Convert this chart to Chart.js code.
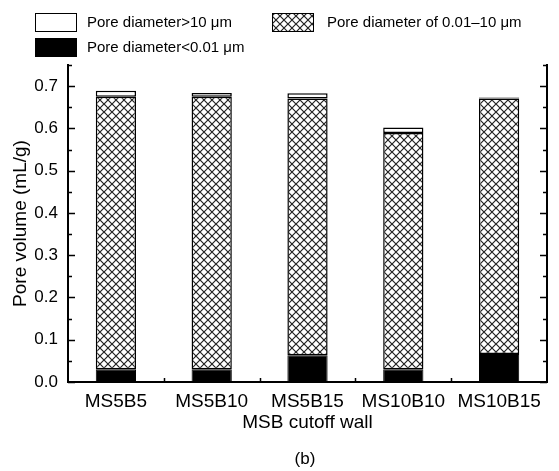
<!DOCTYPE html>
<html>
<head>
<meta charset="utf-8">
<script src="https://cdn.jsdelivr.net/npm/chart.js@4/dist/chart.umd.min.js"></script>
<style>
  html, body { margin: 0; padding: 0; background: #fff; }
  #wrap { width: 559px; height: 471px; }
</style>
</head>
<body>
<div id="wrap"><canvas id="chart"></canvas></div>
<script>
const categories = ['MS5B5', 'MS5B10', 'MS5B15', 'MS10B10', 'MS10B15'];
// stacked from the bottom up
const smallPores = [0.030, 0.030, 0.063, 0.030, 0.066];   // < 0.01 um
const midPores   = [0.645, 0.645, 0.608, 0.559, 0.605];   // 0.01-10 um
const largePores = [0.014, 0.009, 0.012, 0.013, 0.002];   // > 10 um
const yMin = 0, yMax = 0.75, yStep = 0.05;

const FONT = "'Liberation Sans', Arial, sans-serif";

function hatchPattern() {
  const p = document.createElement('canvas');
  p.width = 8; p.height = 8;
  const g = p.getContext('2d');
  g.fillStyle = '#fff';
  g.fillRect(0, 0, 8, 8);
  g.strokeStyle = '#222';
  g.lineWidth = 1.2;
  g.beginPath();
  g.moveTo(-1, -1); g.lineTo(9, 9);
  g.moveTo(9, -1); g.lineTo(-1, 9);
  g.stroke();
  return g.createPattern(p, 'repeat');
}
const hatch = hatchPattern();

// frame, inward ticks, legend and the (b) label
const decorations = {
  id: 'decorations',
  afterDraw(chart) {
    const ctx = chart.ctx;
    const a = chart.chartArea;
    const x = chart.scales.x, y = chart.scales.y;
    ctx.save();
    ctx.strokeStyle = '#000';
    ctx.lineWidth = 2;
    ctx.beginPath();
    ctx.moveTo(a.left, a.top - 1); ctx.lineTo(a.left, a.bottom);
    ctx.lineTo(a.right, a.bottom); ctx.lineTo(a.right, a.top - 1);
    ctx.stroke();

    // y ticks every 0.05, longer at every 0.1
    ctx.lineWidth = 1.5;
    ctx.beginPath();
    const n = Math.round((yMax - yMin) / yStep);
    for (let k = 0; k <= n; k++) {
      const v = yMin + k * yStep;
      const py = Math.round(y.getPixelForValue(v)) + 0.5;
      const len = k % 2 === 0 ? 7 : 4;
      ctx.moveTo(a.left, py); ctx.lineTo(a.left + len, py);
      ctx.moveTo(a.right, py); ctx.lineTo(a.right - len, py);
    }
    for (let i = 1; i < categories.length; i++) {
      const px = Math.round((x.getPixelForValue(i - 1) + x.getPixelForValue(i)) / 2) + 0.5;
      ctx.moveTo(px, a.bottom); ctx.lineTo(px, a.bottom - 4);
    }
    ctx.stroke();

    // legend
    const ds = chart.data.datasets;
    const items = [
      { d: ds[2], bx: 35, by: 13, tx: 87 },
      { d: ds[1], bx: 272, by: 13, tx: 327 },
      { d: ds[0], bx: 35, by: 38, tx: 87 }
    ];
    ctx.font = '15px ' + FONT;
    ctx.textBaseline = 'middle';
    ctx.textAlign = 'left';
    items.forEach(it => {
      ctx.fillStyle = it.d.backgroundColor;
      ctx.fillRect(it.bx, it.by, 42, 19);
      ctx.lineWidth = 1;
      ctx.strokeStyle = '#000';
      ctx.strokeRect(it.bx + 0.5, it.by + 0.5, 41, 18);
      ctx.fillStyle = '#000';
      ctx.fillText(it.d.label, it.tx, it.by + 10);
    });

    ctx.font = '17px ' + FONT;
    ctx.textAlign = 'center';
    ctx.fillText('(b)', 305, 459);
    ctx.restore();
  }
};

new Chart(document.getElementById('chart'), {
  type: 'bar',
  data: {
    labels: categories,
    datasets: [
      {
        label: 'Pore diameter<0.01 μm',
        data: smallPores,
        backgroundColor: '#000',
        borderColor: '#000',
        borderWidth: 1,
        borderSkipped: false
      },
      {
        label: 'Pore diameter of 0.01–10 μm',
        data: midPores,
        backgroundColor: hatch,
        borderColor: '#000',
        borderWidth: 1.5,
        borderSkipped: false
      },
      {
        label: 'Pore diameter>10 μm',
        data: largePores,
        backgroundColor: '#fff',
        borderColor: '#000',
        borderWidth: 1.5,
        borderSkipped: false
      }
    ]
  },
  options: {
    responsive: true,
    maintainAspectRatio: false,
    animation: false,
    layout: { padding: { top: 65, right: 12, left: 0, bottom: 37 } },
    datasets: { bar: { barPercentage: 0.42, categoryPercentage: 1 } },
    plugins: {
      legend: { display: false },
      tooltip: { enabled: false }
    },
    scales: {
      x: {
        stacked: true,
        afterFit(scale) { scale.height = 52; },
        grid: { display: false, drawTicks: false },
        border: { display: false },
        ticks: { color: '#000', padding: 8, font: { family: FONT, size: 19 } },
        title: {
          display: true, text: 'MSB cutoff wall', color: '#000',
          padding: { top: 0, bottom: 0 }, font: { family: FONT, size: 19 }
        }
      },
      y: {
        stacked: true,
        min: yMin, max: yMax,
        afterFit(scale) { scale.width = 68; },
        grid: { display: false, drawTicks: false },
        border: { display: false },
        ticks: {
          stepSize: yStep,
          autoSkip: false,
          color: '#000',
          padding: 10,
          font: { family: FONT, size: 17 },
          callback(v) {
            const k = Math.round(v * 100);
            return k % 10 === 0 ? (k / 100).toFixed(1) : '';
          }
        },
        title: {
          display: true, text: 'Pore volume (mL/g)', color: '#000',
          padding: { top: 9, bottom: 0 }, font: { family: FONT, size: 19 }
        }
      }
    }
  },
  plugins: [decorations]
});
</script>
</body>
</html>
